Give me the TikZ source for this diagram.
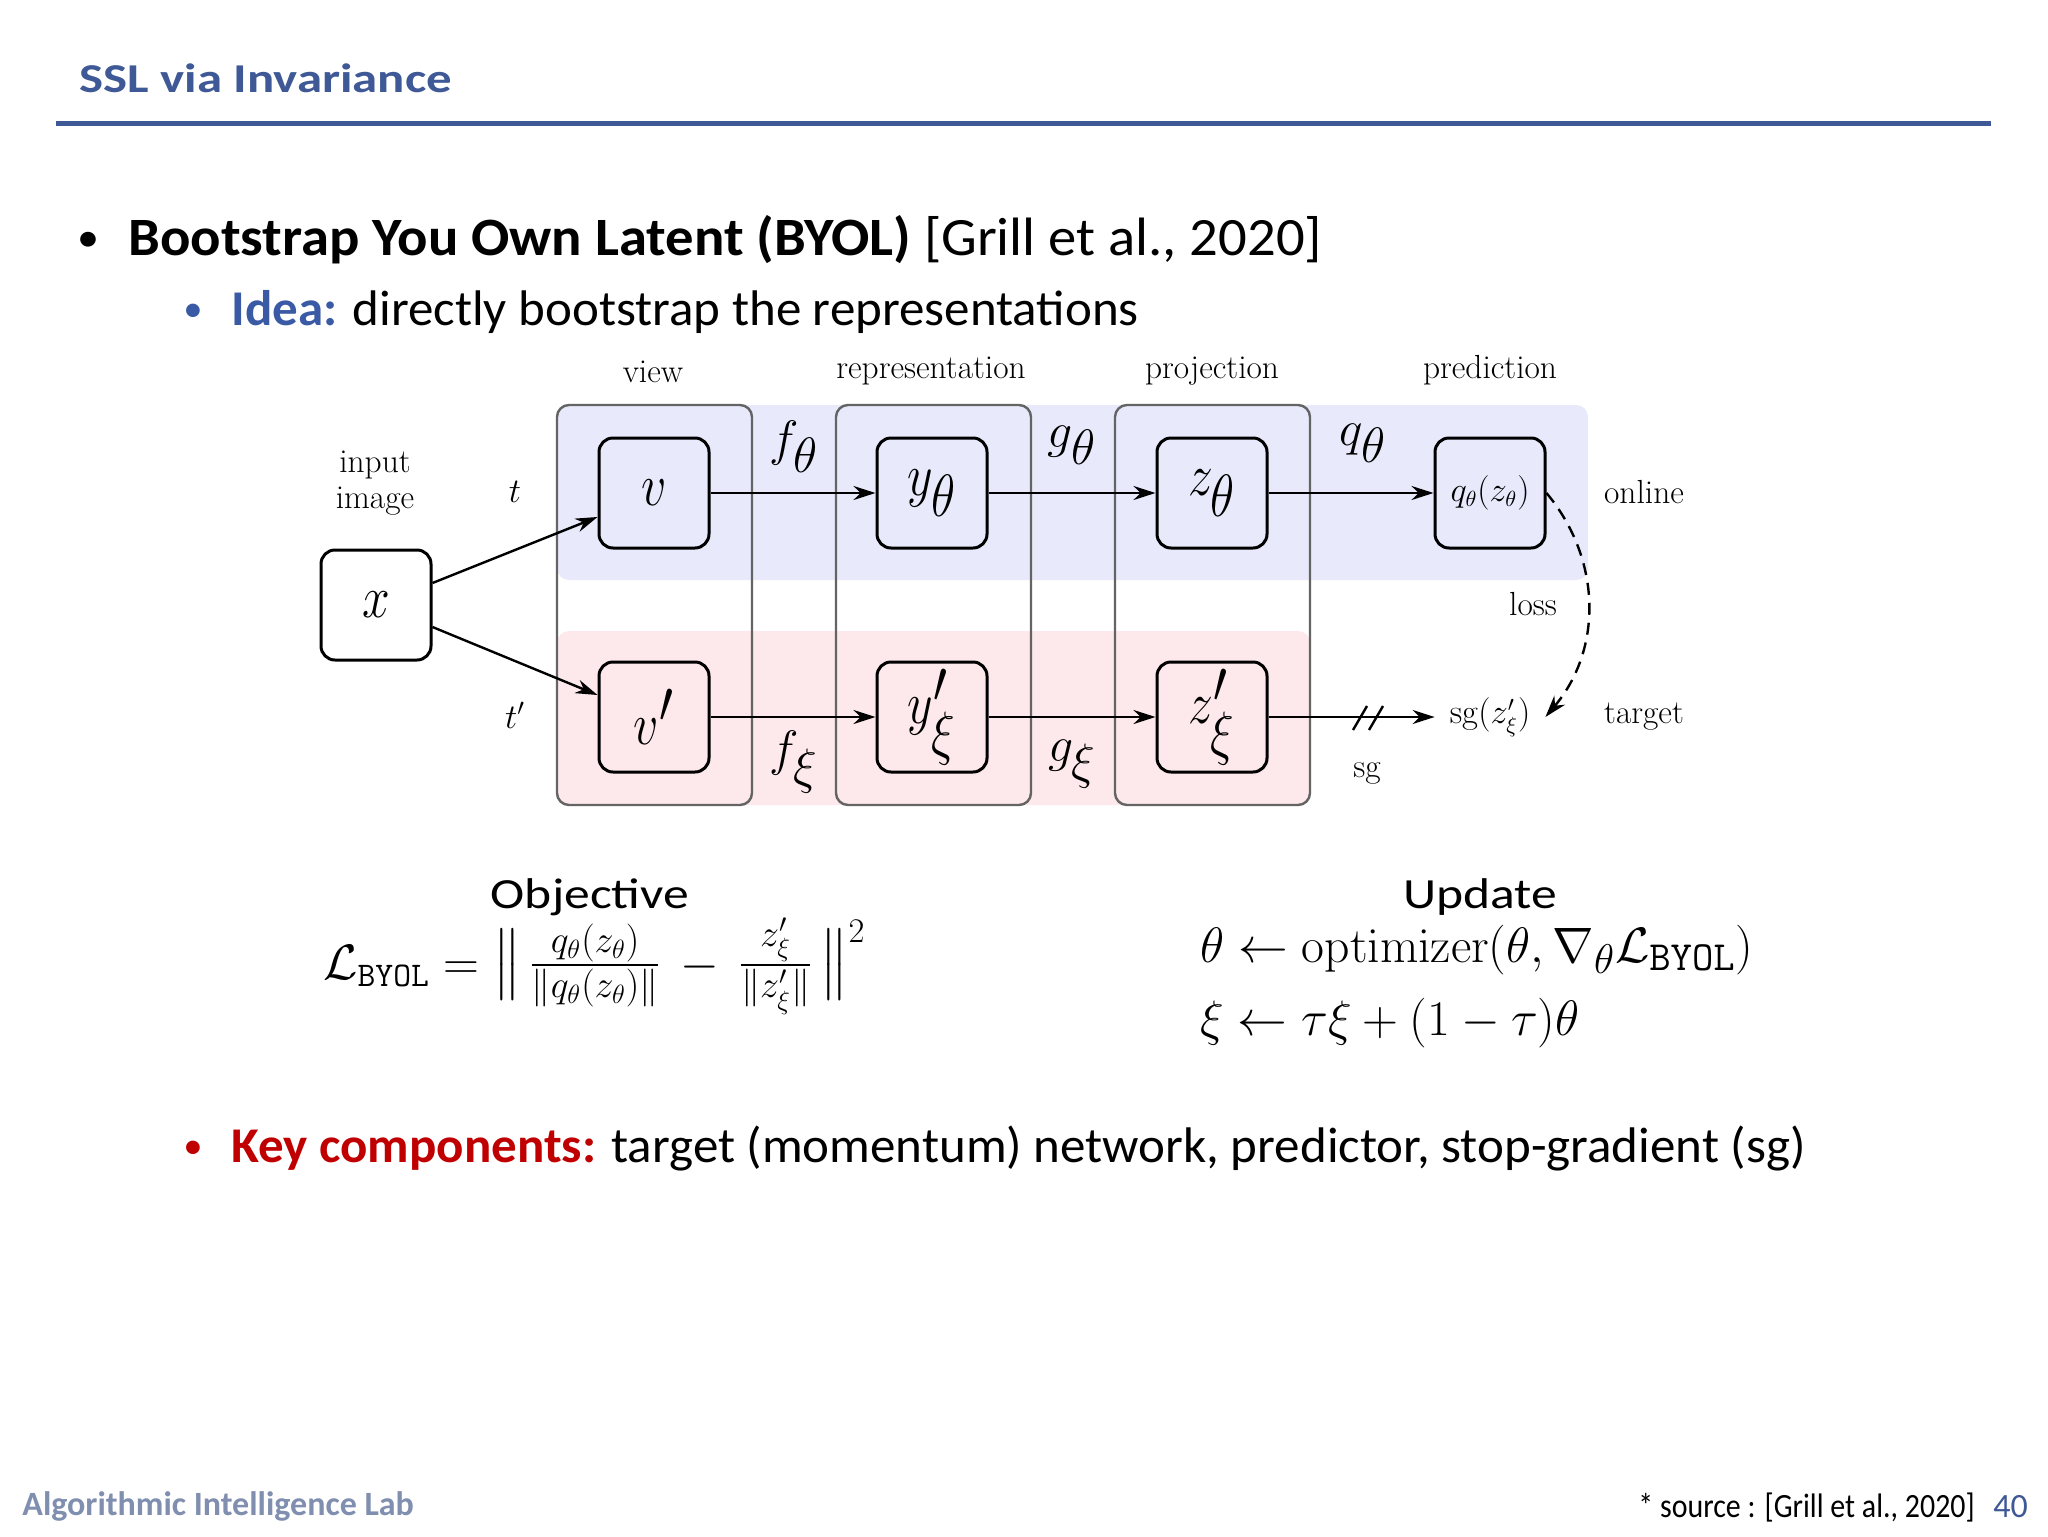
\documentclass[tikz,border=0pt]{standalone}
\usepackage[no-math]{fontspec}
\usepackage{amsmath}
\usetikzlibrary{arrows.meta}
\newfontfamily\titlefont{Carlito}[FakeStretch=1.24]
\newfontfamily\bigfont{Carlito}[FakeStretch=1.05]
\newfontfamily\bodyfont{Carlito}[FakeStretch=1.02]
\newfontfamily\headfont{Carlito}[FakeStretch=1.2]
\newfontfamily\footfont{Carlito}
\newfontfamily\srcfont{Carlito}[FakeStretch=0.88]
\definecolor{titleblue}{RGB}{63,88,150}
\definecolor{ideablue}{RGB}{59,90,165}
\definecolor{keyred}{RGB}{192,0,0}
\definecolor{footgray}{RGB}{128,143,175}
\definecolor{onlinebg}{RGB}{232,234,252}
\definecolor{targetbg}{RGB}{253,232,235}
\definecolor{colgray}{RGB}{100,100,100}
\newcommand{\tallmath}[1]{\scalebox{1}[1.2]{$#1$}}
\newcommand{\bignorm}{\scalebox{1}[1.18]{$\big\|$}}
\tikzset{
 slide/.style={anchor=base west, inner sep=0},
 box/.style={draw, line width=1.5pt, rounded corners=7pt, minimum width=55pt, minimum height=55pt, inner sep=0, font=\fontsize{33}{38}\selectfont},
 ghost/.style={minimum width=55pt, minimum height=55pt, inner sep=0, font=\fontsize{16}{19}\selectfont},
 lbl/.style={font=\fontsize{16.7}{19}\selectfont, inner sep=0, anchor=base},
 fn/.style={font=\fontsize{34}{40}\selectfont, inner sep=0},
 flow/.style={line width=1.2pt, -{Stealth[length=11pt,width=7pt]}},
 band/.style={rounded corners=6pt},
 colbox/.style={draw=colgray, line width=1.2pt, rounded corners=6pt},
}
\begin{document}
\begin{tikzpicture}[x=0.5pt,y=-0.5pt]
\path[use as bounding box, fill=white] (0,0) rectangle (2048,1536);

% header
\node[slide, font=\titlefont\bfseries\fontsize{20.5}{24}\selectfont, text=titleblue] (title) at (79,92) {SSL via Invariance};
\draw[titleblue, line width=2.5pt] (56,123.5) -- (1991,123.5);

\node[slide, font=\bigfont\fontsize{21}{26}\selectfont] (b1dot) at (77,251) {•};
\node[slide, font=\bigfont\fontsize{27}{32}\selectfont] (b1) at (128,255) {\textbf{Bootstrap You Own Latent (BYOL)} [Grill et al., 2020]};
\node[slide, font=\bodyfont\fontsize{19}{24}\selectfont, text=ideablue] (b2dot) at (183,321) {•};
\node[slide, font=\bodyfont\fontsize{25}{30}\selectfont] (b2) at (231,325) {\textcolor{ideablue}{\textbf{Idea:}} directly bootstrap the representations};

% background bands
\fill[onlinebg, band] (557,405) rectangle (1588,580);
\fill[targetbg, band] (557,631) rectangle (1310,805);
\draw[colbox] (557,405) rectangle (752,805);
\draw[colbox] (836,405) rectangle (1031,805);
\draw[colbox] (1115,405) rectangle (1310,805);

% column labels
\node[lbl] (lview) at (653,382) {view};
\node[lbl] (lrep) at (931,378) {representation};
\node[lbl] (lproj) at (1212,378) {projection};
\node[lbl] (lpred) at (1490,378) {prediction};
\node[lbl] (linput) at (375,472) {input};
\node[lbl] (limage) at (375,508) {image};
\node[lbl] (lonline) at (1644,503) {online};
\node[lbl] (ltarget) at (1644,723) {target};
\node[lbl] (lloss) at (1533,615) {loss};
\node[lbl] (lsg) at (1367,777) {sg};
\node[lbl] (lt) at (515,502) {$t$};
\node[lbl] (ltp) at (515,728) {$t'$};

% boxes
\node[box] (x) at (376,605) {\tallmath{x}};
\node[box] (v) at (654,493) {\tallmath{v}};
\node[box] (vp) at (654,717) {\tallmath{v'}};
\node[box] (y) at (932,493) {\tallmath{y_\theta}};
\node[box] (yp) at (932,717) {\tallmath{y'_\xi}};
\node[box] (z) at (1212,493) {\tallmath{z_\theta}};
\node[box] (zp) at (1212,717) {\tallmath{z'_\xi}};
\node[box, font=\fontsize{16}{19}\selectfont] (q) at (1490,493) {$q_\theta(z_\theta)$};
\node[ghost] (sg) at (1490,717) {$\mathrm{sg}(z'_\xi)$};

% function labels
\node[fn] (lf) at (794,447) {$f_\theta$};
\node[fn] (lfx) at (794,762) {$f_\xi$};
\node[fn] (lg) at (1072,445) {$g_\theta$};
\node[fn] (lgx) at (1072,764) {$g_\xi$};
\node[fn] (lq) at (1363,443) {$q_\theta$};

% connectors
\draw[flow] ([yshift=11pt]x.east) -- ([yshift=-12pt]v.west);
\draw[flow] ([yshift=-11pt]x.east) -- ([yshift=11pt]vp.west);
\draw[flow] (v) -- (y);
\draw[flow] (y) -- (z);
\draw[flow] (z) -- (q);
\draw[flow] (vp) -- (yp);
\draw[flow] (yp) -- (zp);
\draw[flow] (zp) -- (sg);
\coordinate (cut) at (1368,718);
\draw[line width=1.2pt] ([shift={(-15,12)}]cut) -- ([shift={(-1,-12)}]cut);
\draw[line width=1.2pt] ([shift={(1,12)}]cut) -- ([shift={(15,-12)}]cut);
\draw[flow, dash pattern=on 6pt off 4pt] (q.east) to[bend left=40] (sg.east);

% objective and update
\node[slide, anchor=base, font=\headfont\fontsize{21.5}{26}\selectfont] (obj) at (590,908) {Objective};
\node[slide, anchor=base, font=\headfont\fontsize{21.5}{26}\selectfont] (upd) at (1480,908) {Update};
\node[slide, font=\fontsize{26}{31}\selectfont] (loss) at (323,979) {$\mathcal{L}_{\mathtt{BYOL}} = \bignorm\, \scalebox{1.1}{$\frac{q_\theta(z_\theta)}{\|q_\theta(z_\theta)\|}$} \,-\, \scalebox{1.1}{$\frac{z'_\xi}{\|z'_\xi\|}$} \,\bignorm^2$};
\node[slide, font=\fontsize{28.3}{33}\selectfont] (up1) at (1200,962) {$\theta \leftarrow \mathrm{optimizer}(\theta, \nabla_\theta \mathcal{L}_{\mathtt{BYOL}})$};
\node[slide, font=\fontsize{28.3}{33}\selectfont] (up2) at (1200,1035) {$\xi \leftarrow \tau\xi + (1-\tau)\theta$};

% key components
\node[slide, font=\bodyfont\fontsize{19}{24}\selectfont, text=keyred] (b3dot) at (183,1158) {•};
\node[slide, font=\bodyfont\fontsize{25}{30}\selectfont] (b3) at (231,1162) {\textcolor{keyred}{\textbf{Key components:}} target (momentum) network, predictor, stop-gradient (sg)};

% footer
\node[slide, font=\footfont\bfseries\fontsize{17}{20}\selectfont, text=footgray] (lab) at (22,1515) {Algorithmic Intelligence Lab};
\node[slide, font=\srcfont\fontsize{17}{20}\selectfont] (src) at (1638,1517) {* source : [Grill et al., 2020]};
\node[slide, font=\footfont\fontsize{17}{20}\selectfont, text=titleblue] (pg) at (1993,1517) {40};
\end{tikzpicture}
\end{document}
